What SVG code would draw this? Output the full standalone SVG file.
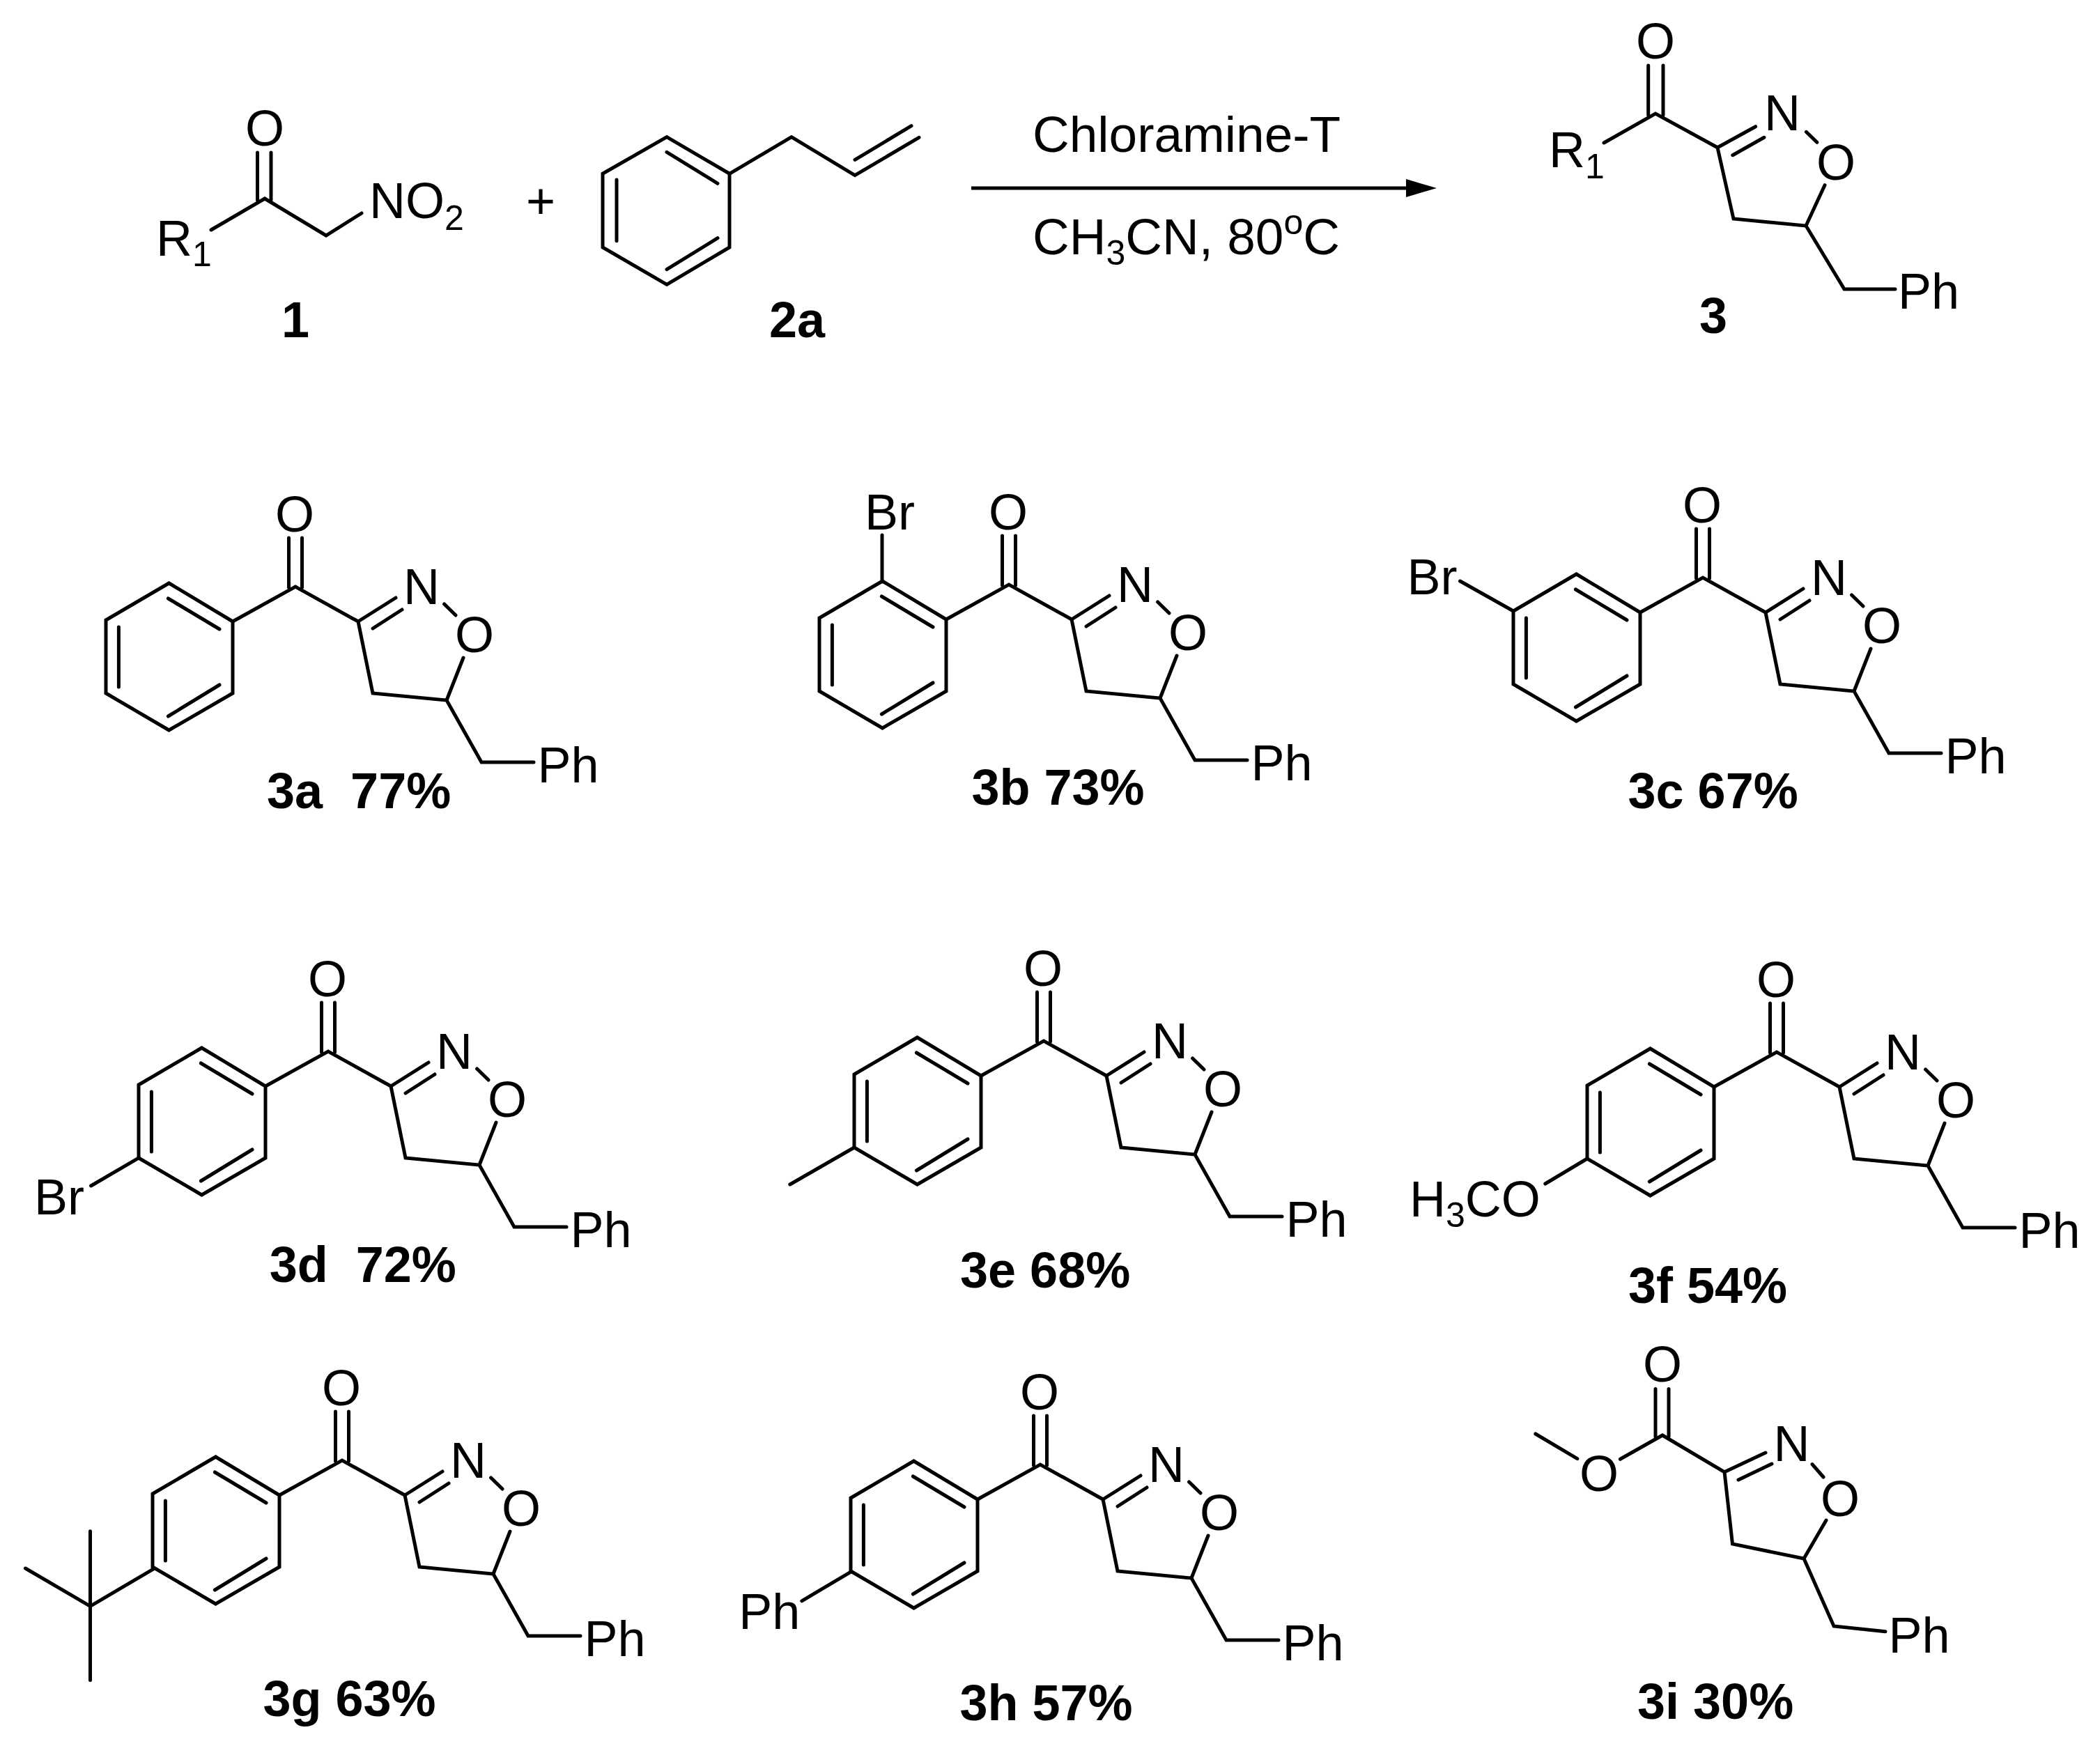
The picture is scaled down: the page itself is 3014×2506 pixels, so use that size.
<svg xmlns="http://www.w3.org/2000/svg" xmlns:xlink="http://www.w3.org/1999/xlink" width="3014" height="2506" viewBox="0 0 3014 2506">
<style>
.b{fill:none;stroke:#000;stroke-width:5;stroke-linecap:round;stroke-linejoin:miter;stroke-miterlimit:10}
.t{font-family:"Liberation Sans",Arial,sans-serif;font-size:72px;fill:#000;white-space:pre}
.m{text-anchor:middle}
.l{font-weight:bold}
.s{font-size:50px}
.c{font-size:73px}
</style>
<defs>
<marker id="head" markerUnits="userSpaceOnUse" markerWidth="46" markerHeight="28" refX="22" refY="13" orient="auto"><path d="M0,0 L44,13 L0,26 z" fill="#000"/></marker>
<g id="core"><path class="b" d="M-91,52 L-1,2 L89,52 L110,155 L216,165 L266,254 L341,254"/><path class="b" d="M-10.5,-68 V3 M8.5,-68 V3 M89,52 L143,18 M110,62 L152,35 M212.6,27 L229,43 M240,104 L216,165"/></g>
<g id="aryl"><path class="b" d="M-182.5,-3 L-91,52 V155 L-182.5,208 L-273,155 V50 Z"/><path class="b" d="M-183.6,19 L-110,63 M-254.6,60 V146 M-110,143 L-183.6,188"/></g>
</defs>
<rect width="3014" height="2506" fill="#fff"/>
<g id="connectors"><line x1="1394" y1="270" x2="2040" y2="270" stroke="#000" stroke-width="5" marker-end="url(#head)"/></g>

<g id="reactant-1">
<path class="b" d="M303,330 L380,285 L468,338 L519,306"/><path class="b" d="M369.5,219 V287 M389,219 V287"/>
<text class="t m" x="380" y="209">O</text>
<text class="t" x="224" y="366.7">R<tspan class="s" dy="15">1</tspan></text>
<text class="t" x="530" y="313">NO<tspan class="s" dy="17">2</tspan></text>
<text class="t l m" x="424" y="484">1</text>
</g>
<g id="plus"><text class="t m" x="776" y="313">+</text></g>
<g id="reactant-2a">
<path class="b" d="M957,196.7 L1047,249.3 V355 L957,408.3 L865,355 V249.3 Z"/>
<path class="b" d="M957,218.3 L1030,263.3 M885,258 V345.7 M1030,341.7 L957,386.7"/>
<path class="b" d="M1047,249.3 L1136,196.7 L1227,251.7 L1319,197.3 M1227,229.3 L1308,180.7"/>
<text class="t l" x="1104" y="484">2a</text>
</g>
<g id="conditions">
<text class="t c" x="1482" y="218">Chloramine-T</text>
<text class="t c" x="1482" y="365">CH<tspan class="s" dy="15">3</tspan><tspan dy="-15">CN, 80</tspan><tspan class="s" dy="-29">o</tspan><tspan dy="29">C</tspan></text>
</g>
<g id="product-3">
<path class="b" d="M2302,205 L2376,163 L2465,211.7 L2488,314 L2592,324 L2647,415 L2720,415"/>
<path class="b" d="M2365.7,94 V165 M2387,94 V165 M2465,211.7 L2519.6,181.7 M2486.8,222.7 L2531.9,197.3 M2592.4,189.3 L2607.8,204.3 M2619,265.7 L2592,324"/>
<text class="t m" x="2376" y="84">O</text>
<text class="t m" x="2558" y="187.3">N</text>
<text class="t m" x="2635" y="258">O</text>
<text class="t" x="2223" y="240">R<tspan class="s" dy="16">1</tspan></text>
<text class="t" x="2724" y="443.3">Ph</text>
<text class="t l m" x="2459" y="478">3</text>
</g>

<g id="compound-3a"><g transform="translate(425,840)"><use href="#core"/><use href="#aryl"/><text class="t m" x="-2" y="-77">O</text><text class="t m" x="180" y="27">N</text><text class="t m" x="256" y="96">O</text><text class="t" x="346.5" y="283">Ph</text></g>
<text class="t l" x="383" y="1160">3a  77%</text></g>

<g id="compound-3b"><g transform="translate(1449,837)"><use href="#core"/><use href="#aryl"/><text class="t m" x="-2" y="-77">O</text><text class="t m" x="180" y="27">N</text><text class="t m" x="256" y="96">O</text><text class="t" x="346.5" y="283">Ph</text></g>
<path class="b" d="M1266,835 V768"/><text class="t" x="1241" y="760">Br</text>
<text class="t l" x="1394.5" y="1155">3b 73%</text></g>

<g id="compound-3c"><g transform="translate(2445,827)"><use href="#core"/><use href="#aryl"/><text class="t m" x="-2" y="-77">O</text><text class="t m" x="180" y="27">N</text><text class="t m" x="256" y="96">O</text><text class="t" x="346.5" y="283">Ph</text></g>
<path class="b" d="M2172,877 L2095.5,834"/><text class="t" x="2019.5" y="853">Br</text>
<text class="t l" x="2336.5" y="1160">3c 67%</text></g>

<g id="compound-3d"><g transform="translate(472,1507)"><use href="#core"/><use href="#aryl"/><text class="t m" x="-2" y="-77">O</text><text class="t m" x="180" y="27">N</text><text class="t m" x="256" y="96">O</text><text class="t" x="346.5" y="283">Ph</text></g>
<path class="b" d="M199.7,1661.7 L130.6,1702"/><text class="t" x="49" y="1743">Br</text>
<text class="t l" x="386.7" y="1840">3d  72%</text></g>

<g id="compound-3e"><g transform="translate(1499,1492)"><use href="#core"/><use href="#aryl"/><text class="t m" x="-2" y="-77">O</text><text class="t m" x="180" y="27">N</text><text class="t m" x="256" y="96">O</text><text class="t" x="346.5" y="283">Ph</text></g>
<path class="b" d="M1226,1647 L1133.8,1700"/>
<text class="t l" x="1378" y="1848">3e 68%</text></g>

<g id="compound-3f"><g transform="translate(2551,1508)"><use href="#core"/><use href="#aryl"/><text class="t m" x="-2" y="-77">O</text><text class="t m" x="180" y="27">N</text><text class="t m" x="256" y="96">O</text><text class="t" x="346.5" y="283">Ph</text></g>
<path class="b" d="M2278,1663 L2217.8,1699"/><text class="t" x="2023" y="1745.6">H<tspan class="s" dy="15">3</tspan><tspan dy="-15">CO</tspan></text>
<text class="t l" x="2337" y="1870">3f 54%</text></g>

<g id="compound-3g"><g transform="translate(492,2094)"><use href="#core"/><use href="#aryl"/><text class="t m" x="-2" y="-77">O</text><text class="t m" x="180" y="27">N</text><text class="t m" x="256" y="96">O</text><text class="t" x="346.5" y="283">Ph</text></g>
<path class="b" d="M219.9,2252.2 L129.5,2305.3 L36.5,2251 M129.5,2197.7 V2411.5"/>
<text class="t l" x="377.4" y="2463">3g 63%</text></g>

<g id="compound-3h"><g transform="translate(1494,2100)"><use href="#core"/><use href="#aryl"/><text class="t m" x="-2" y="-77">O</text><text class="t m" x="180" y="27">N</text><text class="t m" x="256" y="96">O</text><text class="t" x="346.5" y="283">Ph</text></g>
<path class="b" d="M1221.5,2255.8 L1150.8,2297.8"/><text class="t" x="1060.3" y="2338">Ph</text>
<text class="t l" x="1377.5" y="2469">3h 57%</text></g>

<g id="compound-3i">
<path class="b" d="M2203.8,2058 L2263.8,2093.6 M2325.4,2094.3 L2386,2060 L2475,2112.8 L2486.5,2216 L2589,2237 L2632,2334 L2706,2341.7"/>
<path class="b" d="M2376,1993.5 V2062 M2395,1993.5 V2062 M2475,2112.8 L2534,2085 M2495,2124 L2543,2101 M2601,2101.7 L2617,2120 M2621,2182 L2589,2237"/>
<text class="t m" x="2386" y="1983">O</text>
<text class="t m" x="2295" y="2140">O</text>
<text class="t m" x="2571.5" y="2097">N</text>
<text class="t m" x="2641" y="2176">O</text>
<text class="t" x="2710.5" y="2372.4">Ph</text>
<text class="t l" x="2350" y="2467.3">3i 30%</text></g>
</svg>
